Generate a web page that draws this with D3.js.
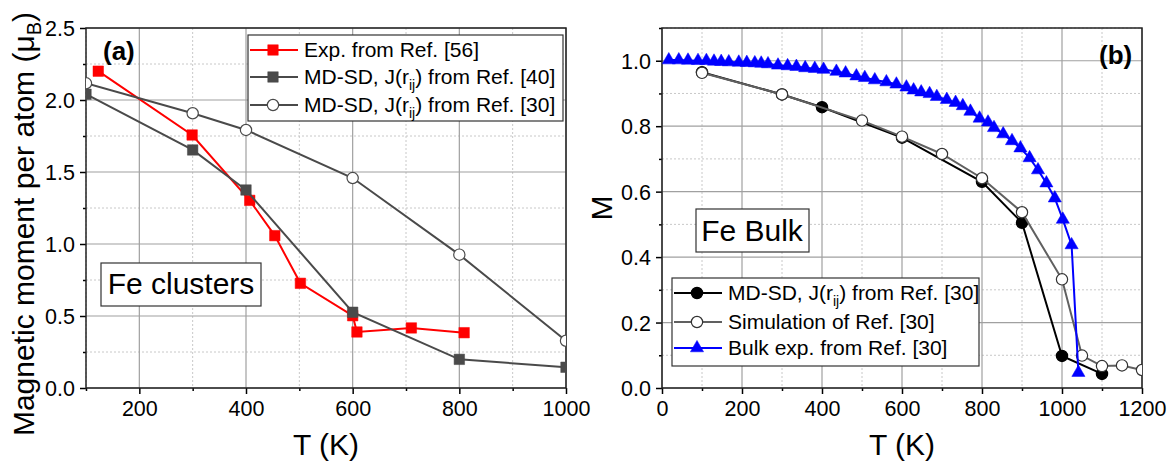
<!DOCTYPE html>
<html lang="en">
<head>
<meta charset="UTF-8">
<title>Fe magnetization</title>
<script src="https://cdn.jsdelivr.net/npm/d3@7"></script>
<style>
  body { margin: 0; background: #fff; }
  text { font-family: "Liberation Sans", Arial, sans-serif; fill: #000; }
</style>
</head>
<body>
<script>

// ---- panel (a): Fe clusters ----
var expT  = [123, 299, 407, 454, 502, 600, 608, 710, 809];
var expM  = [2.20, 1.757, 1.303, 1.058, 0.727, 0.502, 0.389, 0.417, 0.384];
var md40T = [100, 300, 400, 600, 800, 1000];
var md40M = [2.04, 1.653, 1.375, 0.526, 0.199, 0.144];
var md30T = [100, 300, 400, 600, 800, 1000];
var md30M = [2.116, 1.908, 1.792, 1.458, 0.926, 0.328];

var aXMajor = [200, 400, 600, 800, 1000];
var aXMinor = [100, 300, 500, 700, 900];
var aYMajor = [0, 0.5, 1.0, 1.5, 2.0, 2.5];
var aYMinor = [0.25, 0.75, 1.25, 1.75, 2.25];

// ---- panel (b): Fe bulk ----
var mdT  = [100, 300, 400, 600, 800, 900, 1000, 1100];
var mdM  = [0.965, 0.897, 0.858, 0.765, 0.630, 0.505, 0.098, 0.043];
var simT = [100, 300, 500, 600, 700, 800, 900, 1000, 1050, 1100, 1150, 1200];
var simM = [0.963, 0.897, 0.817, 0.768, 0.715, 0.641, 0.537, 0.332, 0.099, 0.067, 0.069, 0.055];
var bulkT = [17, 42, 65, 90, 111, 130, 148, 167, 192, 212, 232, 248, 265, 290, 314, 336, 358, 382, 404,
             436, 459, 486, 507, 532, 561, 586, 611, 629, 648, 669, 687, 712, 734, 752, 771, 794, 815,
             830, 853, 875, 896, 919, 940, 961, 982, 1002, 1024, 1041];
var bulkM = [1.002, 1.002, 1.001, 1.000, 1.000, 0.998, 0.997, 0.996, 0.995, 0.994, 0.993, 0.992, 0.990,
             0.986, 0.984, 0.982, 0.978, 0.976, 0.973, 0.967, 0.962, 0.953, 0.948, 0.941, 0.935, 0.928,
             0.919, 0.910, 0.904, 0.899, 0.890, 0.881, 0.872, 0.862, 0.845, 0.824, 0.812, 0.795, 0.776,
             0.755, 0.733, 0.703, 0.666, 0.626, 0.580, 0.515, 0.437, 0.047];

var bXMajor = [0, 200, 400, 600, 800, 1000, 1200];
var bXMinor = [100, 300, 500, 700, 900, 1100];
var bYMajor = [0, 0.2, 0.4, 0.6, 0.8, 1.0];
var bYMinor = [0.1, 0.3, 0.5, 0.7, 0.9, 1.1];

var w = 1173, h = 466;
var svg = d3.select("body").append("svg")
    .attr("width", w)
    .attr("height", h);

// draws frame, grid, ticks; returns x,y scales and a clipped group
function makePanel(id, left, right, top, bottom, xDom, yDom, xMaj, xMin, yMaj, yMin) {
    var x = d3.scaleLinear().domain(xDom).range([left, right]);
    var y = d3.scaleLinear().domain(yDom).range([bottom, top]);

    svg.append("clipPath").attr("id", id)
        .append("rect")
        .attr("x", left).attr("y", top)
        .attr("width", right - left).attr("height", bottom - top);

    var grid = svg.append("g");
    // minor grid, dotted
    grid.selectAll(".gxm").data(xMin).enter().append("line")
        .attr("x1", d => x(d)).attr("x2", d => x(d))
        .attr("y1", top).attr("y2", bottom)
        .attr("stroke", "#c8c8c8").attr("stroke-dasharray", "2,2");
    grid.selectAll(".gym").data(yMin).enter().append("line")
        .attr("x1", left).attr("x2", right)
        .attr("y1", d => y(d)).attr("y2", d => y(d))
        .attr("stroke", "#c8c8c8").attr("stroke-dasharray", "2,2");
    // major grid, solid
    grid.selectAll(".gx").data(xMaj).enter().append("line")
        .attr("x1", d => x(d)).attr("x2", d => x(d))
        .attr("y1", top).attr("y2", bottom)
        .attr("stroke", "#a0a0a0").attr("stroke-width", 1.2);
    grid.selectAll(".gy").data(yMaj).enter().append("line")
        .attr("x1", left).attr("x2", right)
        .attr("y1", d => y(d)).attr("y2", d => y(d))
        .attr("stroke", "#a0a0a0").attr("stroke-width", 1.2);

    // axes
    var xAx = svg.append("g").attr("transform", "translate(0," + bottom + ")")
        .call(d3.axisBottom(x).tickValues(xMaj).tickSize(6).tickPadding(7).tickFormat(d3.format("d")));
    svg.append("g").attr("transform", "translate(0," + bottom + ")")
        .call(d3.axisBottom(x).tickValues(xMin).tickSize(3).tickFormat(""));
    var yAx = svg.append("g").attr("transform", "translate(" + left + ",0)")
        .call(d3.axisLeft(y).tickValues(yMaj).tickSize(6).tickPadding(5).tickFormat(d3.format(".1f")));
    svg.append("g").attr("transform", "translate(" + left + ",0)")
        .call(d3.axisLeft(y).tickValues(yMin).tickSize(3).tickFormat(""));
    svg.selectAll(".domain").remove();
    svg.selectAll(".tick line").attr("stroke", "#000").attr("stroke-width", 1.5);
    xAx.selectAll("text").attr("font-size", 21.5).attr("font-family", null);
    yAx.selectAll("text").attr("font-size", 21.5).attr("font-family", null).attr("dy", "0.36em");

    svg.append("rect")
        .attr("x", left).attr("y", top)
        .attr("width", right - left).attr("height", bottom - top)
        .attr("fill", "none").attr("stroke", "#222").attr("stroke-width", 1.5);

    var g = svg.append("g").attr("clip-path", "url(#" + id + ")");
    return { x: x, y: y, g: g };
}

function series(p, xs, ys, color, width, marker) {
    var pts = xs.map((t, i) => [t, ys[i]]);
    p.g.append("path")
        .datum(pts)
        .attr("fill", "none")
        .attr("stroke", color)
        .attr("stroke-width", width)
        .attr("d", d3.line().x(d => p.x(d[0])).y(d => p.y(d[1])));
    p.g.selectAll(null).data(pts).enter().append("path")
        .attr("transform", d => "translate(" + p.x(d[0]) + "," + p.y(d[1]) + ")")
        .attr("d", d3.symbol().type(marker.type).size(marker.size))
        .attr("fill", marker.fill)
        .attr("stroke", marker.stroke)
        .attr("stroke-width", marker.sw);
}

var sq = function (c) { return { type: d3.symbolSquare, size: 110, fill: c, stroke: c, sw: 0.5 }; };
var circ = function (f, s) { return { type: d3.symbolCircle, size: 100, fill: f, stroke: s, sw: 1.2 }; };
var tri = { type: d3.symbolTriangle, size: 75, fill: "#0000ff", stroke: "#0000ff", sw: 0.5 };

// legend row: line + marker + text (with optional subscript)
function legendRow(x0, yy, color, marker, parts, fs) {
    svg.append("line").attr("x1", x0).attr("x2", x0 + 48)
        .attr("y1", yy).attr("y2", yy)
        .attr("stroke", color).attr("stroke-width", 2.2);
    svg.append("path")
        .attr("transform", "translate(" + (x0 + 23) + "," + yy + ")")
        .attr("d", d3.symbol().type(marker.type).size(marker.size))
        .attr("fill", marker.fill).attr("stroke", marker.stroke).attr("stroke-width", marker.sw);
    var t = svg.append("text").attr("x", x0 + 54).attr("y", yy + 7).attr("font-size", fs);
    addParts(t, parts, 14, 6);
}

// text pieces; {sub: ".."} becomes a lowered, smaller tspan
function addParts(t, parts, subSize, subDy) {
    var back = 0;
    parts.forEach(function (p) {
        if (typeof p === "string") {
            t.append("tspan").attr("dy", back || null).text(p);
            back = 0;
        } else {
            t.append("tspan").attr("font-size", subSize).attr("dy", subDy).text(p.sub);
            back = -subDy;
        }
    });
}

// ================= panel (a) =================
var pa = makePanel("clipA", 86, 566, 28, 388, [100, 1000], [0, 2.5], aXMajor, aXMinor, aYMajor, aYMinor);
series(pa, expT, expM, "#ff0000", 2, sq("#ff0000"));
series(pa, md40T, md40M, "#4a4a4a", 2, sq("#4a4a4a"));
series(pa, md30T, md30M, "#4a4a4a", 2, circ("#fff", "#4a4a4a"));

svg.append("text").attr("x", 103).attr("y", 60)
    .attr("font-size", 26).attr("font-weight", "bold").text("(a)");

svg.append("rect").attr("x", 248).attr("y", 35).attr("width", 315).attr("height", 86)
    .attr("fill", "#fff").attr("stroke", "#333").attr("stroke-width", 1.2);
legendRow(250, 50, "#ff0000", sq("#ff0000"), ["Exp. from Ref. [56]"], 21);
legendRow(250, 77, "#4a4a4a", sq("#4a4a4a"), ["MD-SD, J(r", { sub: "ij" }, ") from Ref. [40]"], 21);
legendRow(250, 105, "#4a4a4a", circ("#fff", "#4a4a4a"), ["MD-SD, J(r", { sub: "ij" }, ") from Ref. [30]"], 21);

svg.append("rect").attr("x", 101).attr("y", 263).attr("width", 160).attr("height", 43)
    .attr("fill", "#fff").attr("stroke", "#333").attr("stroke-width", 1.2);
svg.append("text").attr("x", 181).attr("y", 294).attr("text-anchor", "middle")
    .attr("font-size", 30).text("Fe clusters");

var ta = svg.append("text")
    .attr("transform", "translate(34,224) rotate(-90)")
    .attr("text-anchor", "middle").attr("font-size", 30);
addParts(ta, ["Magnetic moment per atom (\u03bc", { sub: "B" }, ")"], 20, 7);

svg.append("text").attr("x", 326).attr("y", 455).attr("text-anchor", "middle")
    .attr("font-size", 30).text("T (K)");

// ================= panel (b) =================
var pb = makePanel("clipB", 662, 1142, 28, 388, [0, 1200], [0, 1.1], bXMajor, bXMinor, bYMajor, bYMinor);
series(pb, mdT, mdM, "#000", 2, circ("#000", "#000"));
series(pb, simT, simM, "#606060", 2, circ("#fff", "#333"));
series(pb, bulkT, bulkM, "#0000ff", 2, tri);

svg.append("text").attr("x", 1099).attr("y", 64)
    .attr("font-size", 26).attr("font-weight", "bold").text("(b)");

svg.append("rect").attr("x", 696).attr("y", 209).attr("width", 113).attr("height", 43)
    .attr("fill", "#fff").attr("stroke", "#333").attr("stroke-width", 1.2);
svg.append("text").attr("x", 752).attr("y", 241).attr("text-anchor", "middle")
    .attr("font-size", 30).text("Fe Bulk");

svg.append("rect").attr("x", 672).attr("y", 278).attr("width", 307).attr("height", 88)
    .attr("fill", "#fff").attr("stroke", "#333").attr("stroke-width", 1.2);
legendRow(674, 293, "#000", circ("#000", "#000"), ["MD-SD, J(r", { sub: "ij" }, ") from Ref. [30]"], 21);
legendRow(674, 322, "#606060", circ("#fff", "#333"), ["Simulation of Ref. [30]"], 21);
legendRow(674, 348, "#0000ff", tri, ["Bulk exp. from Ref. [30]"], 21);

svg.append("text")
    .attr("transform", "translate(612,208) rotate(-90)")
    .attr("text-anchor", "middle").attr("font-size", 30).text("M");

svg.append("text").attr("x", 902).attr("y", 455).attr("text-anchor", "middle")
    .attr("font-size", 30).text("T (K)");

</script>
</body>
</html>
